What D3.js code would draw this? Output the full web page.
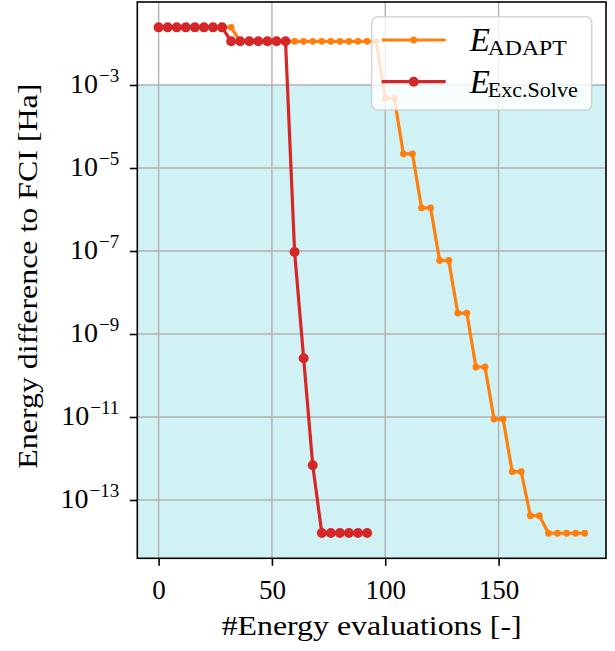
<!DOCTYPE html>
<html>
<head>
<meta charset="utf-8">
<script src="https://cdn.jsdelivr.net/npm/d3@7"></script>
<style>
  html, body { margin: 0; padding: 0; background: #fff; }
  svg { display: block; font-family: "Liberation Serif", "DejaVu Serif", serif; }
  svg text { font-family: "Liberation Serif", "DejaVu Serif", serif; }
</style>
</head>
<body>
<svg id="chart" width="615" height="651"></svg>
<script>
// ---------------- data ----------------
const adaptEvals = [0,4,8,12,16,20,24,28,32,36,40,44,48,52,56,60,64,68,72,76,80,84,88,92,96,
  100,104,108,112,116,120,124,128,132,136,140,144,148,152,156,160,164,168,172,176,180,184,188];
const adaptErr = [0.0245,0.0245,0.0245,0.0245,0.0245,0.0245,0.0245,0.0245,0.0245,
  0.0113,0.0113,0.0113,0.0113,0.0113,0.0113,0.0113,0.0113,0.0113,0.0113,0.0113,0.0113,0.0113,0.0113,0.0113,0.0113,
  4.8e-4,4.8e-4,2.2e-5,2.2e-5,1.1e-6,1.1e-6,5.9e-8,5.9e-8,3.2e-9,3.2e-9,1.6e-10,1.6e-10,
  8.9e-12,8.9e-12,4.8e-13,4.8e-13,4.2e-14,4.2e-14,1.58e-14,1.58e-14,1.58e-14,1.58e-14,1.58e-14];

const excEvals = [0,4,8,12,16,20,24,28,32,36,40,44,48,52,56,60,64,68,72,76,80,84,88,92];
const excErr = [0.0245,0.0245,0.0245,0.0245,0.0245,0.0245,0.0245,0.0245,
  0.0113,0.0113,0.0113,0.0113,0.0113,0.0113,0.0113,
  9.5e-8,2.6e-10,6.9e-13,1.6e-14,1.6e-14,1.6e-14,1.6e-14,1.6e-14,1.6e-14];

const xTickValues = [0, 50, 100, 150];
const yTickExponents = [-3, -5, -7, -9, -11, -13];
const chemAccuracy = 1e-3;
const xDomain = [-9.4, 197.4];
const yDomain = [Math.pow(10, -14.405), Math.pow(10, -1.0)];

const seriesNames = ["ADAPT", "Exc.Solve"];
const seriesColors = ["#ff7f0e", "#d62728"];

// ---------------- layout ----------------
const W = 615, H = 651;
const margin = { left: 137.3, right: W - 606, top: 2, bottom: H - 558.3 };
const svg = d3.select("#chart");

const x = d3.scaleLinear().domain(xDomain).range([margin.left, W - margin.right]);
const y = d3.scaleLog().domain(yDomain).range([H - margin.bottom, margin.top]);

const x0 = x.range()[0], x1 = x.range()[1];
const yTop = y.range()[1], yBot = y.range()[0];

// shaded region below chemical accuracy
svg.append("rect")
  .attr("x", x0).attr("y", y(chemAccuracy))
  .attr("width", x1 - x0).attr("height", yBot - y(chemAccuracy))
  .attr("fill", "#d1f2f5");

// grid
const grid = svg.append("g").attr("stroke", "#b0b0b0").attr("stroke-width", 1.4);
xTickValues.forEach(v => grid.append("line")
  .attr("x1", x(v)).attr("x2", x(v)).attr("y1", yTop).attr("y2", yBot));
yTickExponents.forEach(e => grid.append("line")
  .attr("x1", x0).attr("x2", x1).attr("y1", y(Math.pow(10, e))).attr("y2", y(Math.pow(10, e))));

// lines
const line = d3.line().x(d => x(d[0])).y(d => y(d[1]));
function drawSeries(xs, ys, color, r, w) {
  const pts = xs.map((v, i) => [v, ys[i]]);
  const g = svg.append("g");
  g.append("path").datum(pts).attr("d", line)
    .attr("fill", "none").attr("stroke", color).attr("stroke-width", w)
    .attr("stroke-linejoin", "round");
  g.selectAll("circle").data(pts).join("circle")
    .attr("cx", d => x(d[0])).attr("cy", d => y(d[1])).attr("r", r)
    .attr("fill", color);
}
drawSeries(adaptEvals, adaptErr, seriesColors[0], 3.4, 3.2);
drawSeries(excEvals, excErr, seriesColors[1], 5, 3.2);

// frame
svg.append("rect").attr("x", x0).attr("y", yTop).attr("width", x1 - x0).attr("height", yBot - yTop)
  .attr("fill", "none").attr("stroke", "#000").attr("stroke-width", 1.6);

// x axis ticks
const xAxis = svg.append("g").attr("transform", `translate(0,${yBot})`)
  .call(d3.axisBottom(x).tickValues(xTickValues).tickSize(7.5).tickPadding(14).tickFormat(d3.format("d")));
xAxis.select(".domain").remove();
xAxis.selectAll(".tick line").attr("stroke", "#000").attr("stroke-width", 1.6);
xAxis.selectAll(".tick text").attr("font-size", 27).attr("fill", "#000")
  .attr("font-family", null);

// y axis ticks
const yAxis = svg.append("g").attr("transform", `translate(${x0},0)`)
  .call(d3.axisLeft(y).tickValues(yTickExponents.map(e => Math.pow(10, e))).tickSize(7.5).tickFormat(""));
yAxis.select(".domain").remove();
yAxis.selectAll(".tick line").attr("stroke", "#000").attr("stroke-width", 1.6);
yAxis.selectAll(".tick").each(function(d) {
  const e = Math.round(Math.log10(d));
  const t = d3.select(this).append("text")
    .attr("x", -18).attr("y", 8).attr("text-anchor", "end").attr("fill", "#000");
  t.append("tspan").attr("font-size", 28).text("10");
  t.append("tspan").attr("font-size", 19).attr("dy", -11).attr("dx", 1).text("\u2212" + Math.abs(e));
});

// axis labels
svg.append("text")
  .attr("x", (x0 + x1) / 2).attr("y", 635).attr("text-anchor", "middle")
  .attr("font-size", 28).attr("fill", "#000")
  .attr("textLength", 300).attr("lengthAdjust", "spacingAndGlyphs")
  .text("#Energy evaluations [-]");
svg.append("text")
  .attr("transform", `translate(37,${(yTop + yBot) / 2 - 4}) rotate(-90)`)
  .attr("text-anchor", "middle").attr("font-size", 28).attr("fill", "#000")
  .attr("textLength", 385).attr("lengthAdjust", "spacingAndGlyphs")
  .text("Energy difference to FCI [Ha]");

// legend
const lg = svg.append("g").attr("transform", "translate(371.7,16.7)");
lg.append("rect").attr("width", 220).attr("height", 93.3).attr("rx", 6)
  .attr("fill", "#fff").attr("fill-opacity", 0.8)
  .attr("stroke", "#cccccc").attr("stroke-opacity", 0.8).attr("stroke-width", 1.6);
const rowY = [23.3, 65];
const markerR = [3.4, 5];
const subLen = [79, 90];
seriesNames.forEach((name, i) => {
  lg.append("line").attr("x1", 10).attr("x2", 74).attr("y1", rowY[i]).attr("y2", rowY[i])
    .attr("stroke", seriesColors[i]).attr("stroke-width", 3.2);
  lg.append("circle").attr("cx", 42).attr("cy", rowY[i]).attr("r", markerR[i]).attr("fill", seriesColors[i]);
  lg.append("text").attr("x", 98).attr("y", rowY[i] + 11.5).attr("fill", "#000")
    .attr("font-style", "italic").attr("font-size", 33).text("E");
  lg.append("text").attr("x", 116).attr("y", rowY[i] + 15).attr("fill", "#000")
    .attr("font-size", 22).attr("textLength", subLen[i]).attr("lengthAdjust", "spacingAndGlyphs")
    .text(name);
});
</script>
</body>
</html>
